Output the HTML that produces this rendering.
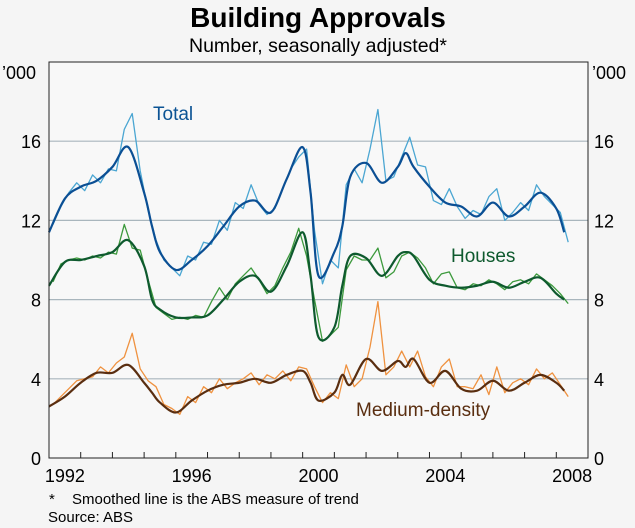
<!DOCTYPE html>
<html><head><meta charset="utf-8"><style>
body{margin:0;background:#f5f5f5;}
svg{display:block;font-family:"Liberation Sans",sans-serif;}
</style></head><body>
<svg id="c" width="635" height="528" viewBox="0 0 635 528">
<rect x="0" y="0" width="635" height="528" fill="#f5f5f5"/>
<text x="318" y="27" text-anchor="middle" font-size="28" font-weight="bold" fill="#000">Building Approvals</text>
<text x="318" y="52" text-anchor="middle" font-size="19.5" fill="#000">Number, seasonally adjusted*</text>
<rect x="49" y="62" width="539" height="396" fill="#f8f8f8"/>
<g id="grid"></g>
<g id="series"></g>
<rect x="49" y="62" width="539" height="396" fill="none" stroke="#222" stroke-width="1"/>
<g id="axes"></g>
<text x="2" y="79" font-size="18">’000</text>
<text x="592" y="79" font-size="18">’000</text>
<text x="153" y="120" font-size="19" fill="#0b5394">Total</text>
<text x="451" y="262" font-size="19" fill="#0e5a2e">Houses</text>
<text x="356" y="416" font-size="19" fill="#5a2e10">Medium-density</text>
<text x="49" y="504" font-size="15">*</text>
<text x="72" y="504" font-size="15">Smoothed line is the ABS measure of trend</text>
<text x="48" y="522" font-size="15">Source: ABS</text>
</svg>
<script>
const yTicks=[0,4,8,12,16];
const yearLabels=[1992,1996,2000,2004,2008];
const trendYears=[1992,1992.5,1993,1993.5,1994,1994.5,1995,1995.25,1995.5,1996,1996.5,1997,1997.5,1998,1998.5,1999,1999.5,2000,2000.25,2000.5,2001,2001.25,2001.5,2002,2002.5,2003,2003.25,2003.5,2004,2004.5,2005,2005.5,2006,2006.5,2007,2007.5,2008,2008.25];
const totalTrend=[11.4,13.1,13.7,14.0,14.7,15.7,13.4,11.7,10.4,9.5,10.0,10.7,11.7,12.7,13.0,12.4,14.1,15.7,13.4,9.2,10.4,11.7,14.2,14.9,13.9,14.7,15.4,14.7,13.7,12.9,12.7,12.2,12.9,12.2,12.7,13.4,12.6,11.4];
const housesTrend=[8.7,9.9,10.0,10.2,10.4,11.0,9.7,8.0,7.5,7.1,7.1,7.2,8.0,8.9,9.2,8.4,9.7,11.4,9.2,6.1,6.6,8.7,10.2,10.1,9.2,10.2,10.4,10.2,9.0,8.7,8.6,8.7,8.9,8.6,8.9,9.1,8.3,8.0];
const mediumTrend=[2.6,3.1,3.8,4.3,4.3,4.7,3.8,3.3,2.8,2.3,2.9,3.4,3.7,3.8,4.0,3.8,4.2,4.4,3.8,2.9,3.3,4.2,3.7,5.0,4.4,4.9,4.6,5.0,3.8,4.4,3.5,3.4,3.9,3.4,3.8,4.2,3.8,3.4];
const rawStart=1992.125, rawStep=0.25;
const totalRaw=[11.8,12.7,13.4,13.9,13.5,14.3,13.9,14.6,14.5,16.6,17.4,14.5,12.5,11.0,10.0,9.6,9.2,10.2,10.0,10.9,10.8,12.0,11.5,12.9,12.6,13.8,12.8,12.3,12.6,13.6,14.6,15.2,15.6,11.5,8.8,10.0,9.6,13.8,14.6,13.9,15.6,17.6,14.0,14.2,15.2,16.2,14.8,14.7,13.0,12.8,13.6,12.7,12.1,12.5,12.3,13.2,13.6,12.0,12.4,12.9,12.5,13.8,13.2,12.8,12.4,10.9];
const housesRaw=[8.9,9.8,10.0,10.1,10.0,10.2,10.1,10.4,10.3,11.8,10.6,10.5,9.0,7.6,7.3,7.0,7.1,7.0,7.2,7.1,7.9,8.6,8.0,8.8,9.2,9.6,9.0,8.3,8.7,9.6,10.4,11.6,10.2,8.0,5.9,6.2,6.6,9.5,10.2,10.0,10.0,10.6,9.1,9.4,10.2,10.4,10.1,9.6,8.8,9.3,9.4,8.6,8.5,8.8,8.7,9.0,8.8,8.5,8.9,9.0,8.8,9.3,9.0,8.7,8.3,7.8];
const mediumRaw=[2.7,3.1,3.5,3.9,4.0,4.1,4.6,4.3,4.8,5.1,6.3,4.5,3.9,3.6,2.7,2.5,2.2,3.1,2.8,3.6,3.3,4.0,3.5,3.8,4.0,4.3,3.7,4.2,4.0,4.4,3.9,4.6,4.5,3.6,2.8,3.3,3.0,4.7,3.6,4.0,5.6,7.9,4.2,4.6,5.4,4.6,5.4,4.1,3.6,4.6,5.0,3.6,3.6,3.5,4.2,3.2,4.6,3.3,3.8,4.0,3.7,4.5,4.0,4.3,3.7,3.1];

const NS='http://www.w3.org/2000/svg';
const X0=49,X1=588,Y0=458,Y1=62,YR0=1992,YR1=2009,VMAX=20;
function xs(t){return X0+(t-YR0)/(YR1-YR0)*(X1-X0);}
function ys(v){return Y0-v/VMAX*(Y0-Y1);}
function mk(tag,attrs,parent){const e=document.createElementNS(NS,tag);for(const k in attrs)e.setAttribute(k,attrs[k]);parent.appendChild(e);return e;}
const grid=document.getElementById('grid'),axes=document.getElementById('axes'),ser=document.getElementById('series');
yTicks.forEach(v=>{
  if(v>0){const g=mk('line',{x1:X0,x2:X1,y1:ys(v),y2:ys(v),stroke:'#a9b6bd','stroke-width':1.2},grid);
  
  }
  const l=mk('text',{x:41,y:ys(v)+7,'text-anchor':'end','font-size':18},axes);l.textContent=v;
  
  
  const r=mk('text',{x:594,y:ys(v)+7,'font-size':18},axes);r.textContent=v;
  
  
});
for(let y=YR0+1;y<YR1;y++){
  const t=mk('line',{x1:xs(y),x2:xs(y),y1:Y0,y2:Y0-6,stroke:'#222','stroke-width':1},axes);
  
  
}
yearLabels.forEach(y=>{
  const t=mk('text',{x:xs(y+0.5),y:482,'text-anchor':'middle','font-size':18},axes);t.textContent=y;
  
  
});
function linePath(xsArr,vals){return vals.map((v,i)=>(i?'L':'M')+xs(xsArr[i]).toFixed(1)+','+ys(v).toFixed(1)).join('');}
function smoothPath(xsArr,vals){
  const p=vals.map((v,i)=>[xs(xsArr[i]),ys(v)]);let d='M'+p[0][0]+','+p[0][1];
  for(let i=0;i<p.length-1;i++){const a=p[i-1]||p[i],b=p[i],c=p[i+1],e=p[i+2]||c;
    d+='C'+(b[0]+(c[0]-a[0])/6)+','+(b[1]+(c[1]-a[1])/6)+' '+(c[0]-(e[0]-b[0])/6)+','+(c[1]-(e[1]-b[1])/6)+' '+c[0]+','+c[1];}
  return d;}
const rawX=totalRaw.map((_,i)=>rawStart+i*rawStep);
[[totalRaw,totalTrend,'#4ba6d2','#0b4f94','total'],[housesRaw,housesTrend,'#3d9a3d','#0e5a2e','houses'],[mediumRaw,mediumTrend,'#ef9240','#5a2e10','medium-density']].forEach(s=>{
  const r=mk('path',{d:linePath(rawX,s[0]),fill:'none',stroke:s[2],'stroke-width':1.3,'stroke-linejoin':'round'},ser);
  
  
  const t=mk('path',{d:smoothPath(trendYears,s[1]),fill:'none',stroke:s[3],'stroke-width':2.2},ser);
  
  
});
</script>
</body></html>
